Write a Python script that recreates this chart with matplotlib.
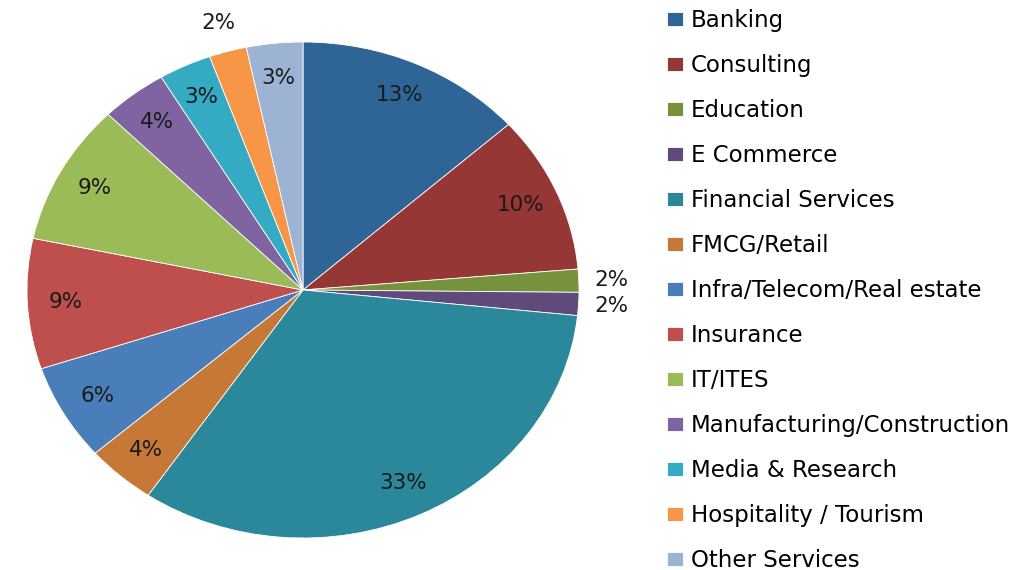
import numpy as np
import matplotlib
matplotlib.use("Agg")
import matplotlib.pyplot as plt

# ==========================================================
# Data
# ==========================================================

sectors = [
    "Banking",
    "Consulting",
    "Education",
    "E Commerce",
    "Financial Services",
    "FMCG/Retail",
    "Infra/Telecom/Real estate",
    "Insurance",
    "IT/ITES",
    "Manufacturing/Construction",
    "Media & Research",
    "Hospitality / Tourism",
    "Other Services",
]

shares = [13.4, 10.3, 1.5, 1.5, 32.9, 4.1, 6.3, 8.5, 9.2, 3.9, 3.1, 2.2, 3.3]

pct_labels = ["13%", "10%", "2%", "2%", "33%", "4%", "6%",
              "9%", "9%", "4%", "3%", "2%", "3%"]

colors = [
    "#2F6496", "#953735", "#76923C", "#604A7B", "#2B889B",
    "#C67836", "#4A7EBB", "#BE4F4C", "#9BBB59", "#7F64A1",
    "#35AAC3", "#F79646", "#9DB3D3",
]

# ==========================================================
# Figure
# ==========================================================

W, H = 1015, 570
fig = plt.figure(figsize=(W / 100, H / 100), dpi=100)

# pie is slightly stretched horizontally in the reference
cx, cy = 303, 280
rx, ry = 276, 248
lim = 1.25
ax = fig.add_axes([
    (cx - rx * lim) / W,
    (cy - ry * lim) / H,
    2 * rx * lim / W,
    2 * ry * lim / H,
])

wedges, _ = ax.pie(
    shares,
    colors=colors,
    startangle=90,
    counterclock=False,
    wedgeprops=dict(edgecolor="white", linewidth=0.6),
)

ax.set_aspect("auto")
ax.set_xlim(-lim, lim)
ax.set_ylim(-lim, lim)
ax.axis("off")

# percentage labels
for w, lab, s in zip(wedges, pct_labels, shares):
    mid = np.deg2rad((w.theta1 + w.theta2) / 2)
    r = 1.12 if s < 2.5 else 0.86
    ax.text(
        r * np.cos(mid),
        r * np.sin(mid),
        lab,
        ha="center",
        va="center",
        fontsize=15.5,
        color="#1a1a1a",
    )

# ==========================================================
# Legend
# ==========================================================

fig.legend(
    wedges,
    sectors,
    loc="upper left",
    bbox_to_anchor=(667 / W, 1 - 9 / H),
    frameon=False,
    fontsize=16.5,
    handlelength=0.7,
    handleheight=0.52,
    handletextpad=0.35,
    labelspacing=0.96,
    borderpad=0,
    borderaxespad=0,
)

plt.savefig("out.png", dpi=100)
plt.close()
